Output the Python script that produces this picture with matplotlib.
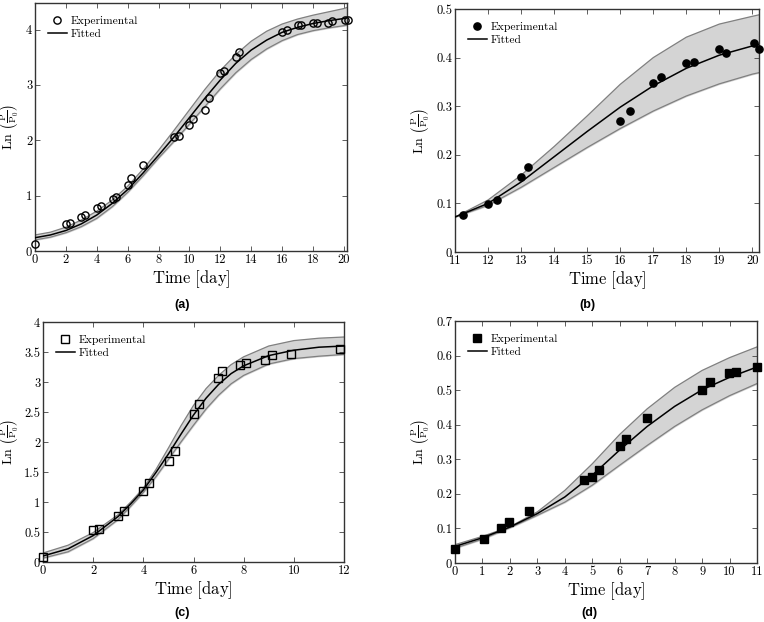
import numpy as np
import matplotlib.pyplot as plt
from matplotlib.ticker import FuncFormatter, MultipleLocator

plt.rcParams['font.family'] = ['cmr10']
plt.rcParams['mathtext.fontset'] = 'cm'
plt.rcParams['axes.formatter.use_mathtext'] = True

# ---- panel (a)
a_x = [0, 2, 2.27, 2.98, 3.26, 3.99, 4.25, 5.03, 5.26, 6.0, 6.24, 6.99, 9.0, 9.3, 10.0, 10.25,
       11.0, 11.26, 11.97, 12.25, 13.03, 13.2, 16.0, 16.3, 17.0, 17.24, 18.0, 18.25, 19.0, 19.25,
       20.06, 20.24]
a_y = [0.12, 0.49, 0.51, 0.62, 0.645, 0.78, 0.81, 0.94, 0.98, 1.2, 1.31, 1.55, 2.06, 2.08, 2.27, 2.39,
       2.54, 2.77, 3.22, 3.25, 3.51, 3.6, 3.96, 3.99, 4.09, 4.08, 4.11, 4.11, 4.11, 4.16,
       4.17, 4.17]
a_t = [0, 1, 2, 3, 4, 5, 6, 7, 8, 9, 10, 11, 12, 13, 14, 15, 16, 17, 18, 19, 20, 20.2]
a_fit = [0.24, 0.29, 0.37, 0.49, 0.65, 0.86, 1.11, 1.41, 1.73, 2.06, 2.41, 2.76, 3.09, 3.39, 3.63,
         3.81, 3.95, 4.04, 4.11, 4.16, 4.20, 4.21]
a_up = [0.29, 0.34, 0.43, 0.56, 0.72, 0.92, 1.17, 1.48, 1.82, 2.18, 2.55, 2.92, 3.26, 3.55, 3.79,
        3.97, 4.10, 4.19, 4.26, 4.32, 4.38, 4.40]
a_lo = [0.20, 0.25, 0.33, 0.44, 0.59, 0.80, 1.06, 1.36, 1.68, 1.98, 2.29, 2.61, 2.93, 3.22, 3.46,
        3.65, 3.80, 3.91, 3.98, 4.03, 4.07, 4.08]

# ---- panel (b)
b_x = [11.25, 12.0, 12.26, 13.0, 13.22, 16.0, 16.3, 17.0, 17.23, 18.0, 18.24, 19.0, 19.21, 20.06, 20.19]
b_y = [0.0755, 0.098, 0.108, 0.155, 0.175, 0.27, 0.29, 0.347, 0.36, 0.389, 0.391, 0.418, 0.409, 0.431, 0.418]
b_t = [11, 12, 13, 14, 15, 16, 17, 18, 19, 20, 20.2]
b_fit = [0.072, 0.100, 0.144, 0.196, 0.248, 0.298, 0.342, 0.378, 0.405, 0.424, 0.427]
b_up = [0.072, 0.107, 0.158, 0.217, 0.280, 0.345, 0.400, 0.442, 0.469, 0.485, 0.488]
b_lo = [0.072, 0.096, 0.133, 0.174, 0.215, 0.254, 0.290, 0.321, 0.346, 0.366, 0.369]

# ---- panel (c)
c_x = [0.0, 2.0, 2.23, 3.0, 3.24, 4.0, 4.23, 5.03, 5.25, 6.02, 6.23, 6.99, 7.15, 7.85, 8.09, 8.86,
       9.14, 9.87, 11.83]
c_y = [0.078, 0.54, 0.55, 0.76, 0.85, 1.19, 1.31, 1.68, 1.85, 2.47, 2.64, 3.06, 3.19, 3.28, 3.31, 3.37,
       3.45, 3.46, 3.55]
c_t = [0, 1, 2, 3, 3.5, 4, 4.5, 5, 5.5, 6, 6.5, 7, 7.5, 8, 9, 10, 11, 12]
c_fit = [0.10, 0.22, 0.44, 0.76, 0.97, 1.20, 1.49, 1.80, 2.13, 2.45, 2.73, 2.96, 3.14, 3.27, 3.44,
         3.53, 3.58, 3.60]
c_up = [0.15, 0.28, 0.49, 0.79, 1.00, 1.23, 1.54, 1.90, 2.27, 2.61, 2.89, 3.11, 3.29, 3.42, 3.60,
        3.69, 3.73, 3.75]
c_lo = [0.065, 0.17, 0.39, 0.71, 0.93, 1.16, 1.42, 1.71, 2.00, 2.28, 2.55, 2.78, 2.97, 3.11, 3.30,
        3.39, 3.43, 3.46]

# ---- panel (d)
d_x = [0, 1.06, 1.67, 1.96, 2.7, 4.71, 5.0, 5.24, 6.02, 6.22, 6.99, 9.0, 9.28, 9.98, 10.22, 10.99]
d_y = [0.041, 0.069, 0.102, 0.12, 0.15, 0.239, 0.25, 0.268, 0.339, 0.36, 0.419, 0.5, 0.525, 0.549,
       0.552, 0.566]
d_t = [0, 1, 2, 3, 4, 5, 6, 7, 8, 9, 10, 11]
d_fit = [0.048, 0.073, 0.104, 0.143, 0.191, 0.254, 0.327, 0.395, 0.453, 0.501, 0.537, 0.567]
d_up = [0.053, 0.077, 0.105, 0.148, 0.210, 0.287, 0.372, 0.446, 0.508, 0.557, 0.594, 0.625]
d_lo = [0.043, 0.069, 0.102, 0.138, 0.176, 0.225, 0.283, 0.340, 0.395, 0.443, 0.484, 0.519]

fig = plt.figure(figsize=(7.64, 6.22), dpi=100)
W, H = 764.0, 622.0


def panel(box, t, fit, up, lo, x, y, marker, filled, xlim, ylim, xstep, ystep, tag, tagx, tagy, labx):
    l, r, top, bot = box
    ax = fig.add_axes([l / W, 1 - bot / H, (r - l) / W, (bot - top) / H])
    ax.fill_between(t, lo, up, color='#d4d4d4', zorder=1)
    ax.plot(t, up, color='#808080', lw=0.9, zorder=2)
    ax.plot(t, lo, color='#808080', lw=0.9, zorder=2)
    fc = 'black' if filled else 'none'
    ax.plot(x, y, linestyle='none', marker=marker, ms=5.2, mec='black', mfc=fc, mew=1.0,
            label='Experimental', zorder=4, clip_on=False)
    ax.plot(t, fit, color='black', lw=1.1, label='Fitted', zorder=3)
    ax.set_xlim(xlim)
    ax.set_ylim(ylim)
    ax.xaxis.set_major_locator(MultipleLocator(xstep))
    ax.yaxis.set_major_locator(MultipleLocator(ystep))
    ax.yaxis.set_major_formatter(FuncFormatter(lambda v, p: '%g' % round(v, 3)))
    ax.xaxis.set_major_formatter(FuncFormatter(lambda v, p: '%g' % round(v, 3)))
    ax.tick_params(direction='in', top=True, right=True, labelsize=9, length=3.5,
                   width=0.6, color='#444444', pad=2)
    for s in ax.spines.values():
        s.set_color('#333333')
        s.set_linewidth(1.0)
    ax.set_xlabel(r'$\mathrm{Time\ [day]}$', fontsize=12, labelpad=2)
    ax.set_ylabel(r'$\mathrm{Ln}\ \left(\frac{\mathrm{P}}{\mathrm{P_0}}\right)$', fontsize=10)
    ax.yaxis.set_label_coords((labx - l) / (r - l), 0.5)
    ax.legend(loc='upper left', frameon=False, fontsize=8.3, handlelength=1.7, handletextpad=0.3,
              borderaxespad=0.9, labelspacing=0.3, borderpad=0.2)
    fig.text(tagx / W, 1 - tagy / H, tag, ha='center', va='center', fontsize=9,
             family='Liberation Sans', weight='bold')
    return ax


panel((35, 347, 3, 251), a_t, a_fit, a_up, a_lo, a_x, a_y, 'o', False,
      (0, 20.2), (0, 4.48), 2, 1, '(a)', 182, 305, 21)
panel((455, 759, 9, 252), b_t, b_fit, b_up, b_lo, b_x, b_y, 'o', True,
      (11, 20.2), (0, 0.5), 1, 0.1, '(b)', 587, 305, 432)
panel((43, 344, 322, 562), c_t, c_fit, c_up, c_lo, c_x, c_y, 's', False,
      (0, 12), (0, 4), 2, 0.5, '(c)', 182, 613, 21)
panel((455, 757, 321, 563), d_t, d_fit, d_up, d_lo, d_x, d_y, 's', True,
      (0, 11), (0, 0.7), 1, 0.1, '(d)', 589, 613, 432)

fig.savefig('out.png', dpi=100)
